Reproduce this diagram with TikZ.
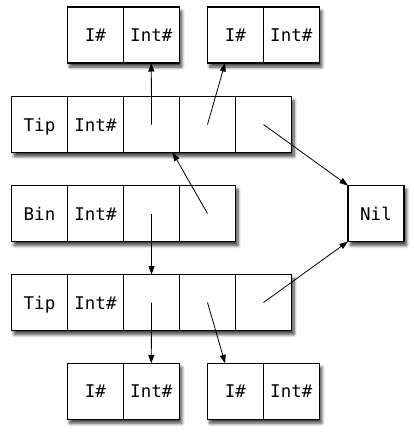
\documentclass[tikz,border=0pt]{standalone}
\usepackage{fontspec}
\setmonofont{DejaVu Sans Mono}
\usetikzlibrary{arrows.meta,shadows.blur}
\tikzset{
  rowbox/.style={draw=black, line width=1.1pt, fill=white, minimum height=56pt, inner sep=0pt, outer sep=0pt,
    blur shadow={shadow xshift=2.5pt, shadow yshift=-4pt, shadow blur steps=8, shadow blur radius=3pt, shadow opacity=75}},
  cell/.style={draw=black, line width=1.1pt, minimum width=56pt, minimum height=56pt, inner sep=0pt, outer sep=0pt,
    font=\fontsize{17.5}{20}\ttfamily, text height=13pt, text depth=0pt},
  ptr/.style={line width=0.8pt, -{Triangle[length=8.5pt,width=6pt]}}
}
\begin{document}
\begin{tikzpicture}[x=1pt,y=-1pt]
\useasboundingbox (0,0) rectangle (414,434);
% row backgrounds with shadows
\node[rowbox, minimum width=112pt] (top1) at (123.3,35) {};
\node[rowbox, minimum width=112pt] (top2) at (263.3,35) {};
\node[rowbox, minimum width=280pt] (tip1) at (151.5,124.5) {};
\node[rowbox, minimum width=224pt] (bin) at (123.5,213.5) {};
\node[rowbox, minimum width=56pt] (nilrow) at (376,213.5) {};
\node[rowbox, minimum width=280pt] (tip2) at (151.5,302.5) {};
\node[rowbox, minimum width=112pt] (bot1) at (123.3,391.3) {};
\node[rowbox, minimum width=112pt] (bot2) at (263.3,391.3) {};
% top boxes
\node[cell] (top1a) at (95.3,35) {I\#};
\node[cell] (top1b) at (151.3,35) {Int\#};
\node[cell] (top2a) at (235.3,35) {I\#};
\node[cell] (top2b) at (291.3,35) {Int\#};
% tip row 1
\node[cell] (t1c1) at (39.5,124.5) {Tip};
\node[cell] (t1c2) at (95.5,124.5) {Int\#};
\node[cell] (t1c3) at (151.5,124.5) {};
\node[cell] (t1c4) at (207.5,124.5) {};
\node[cell] (t1c5) at (263.5,124.5) {};
% bin row
\node[cell] (b1) at (39.5,213.5) {Bin};
\node[cell] (b2) at (95.5,213.5) {Int\#};
\node[cell] (b3) at (151.5,213.5) {};
\node[cell] (b4) at (207.5,213.5) {};
% nil
\node[cell] (nil) at (376,213.5) {Nil};
% tip row 2
\node[cell] (t2c1) at (39.5,302.5) {Tip};
\node[cell] (t2c2) at (95.5,302.5) {Int\#};
\node[cell] (t2c3) at (151.5,302.5) {};
\node[cell] (t2c4) at (207.5,302.5) {};
\node[cell] (t2c5) at (263.5,302.5) {};
% bottom boxes
\node[cell] (bot1a) at (95.3,391.3) {I\#};
\node[cell] (bot1b) at (151.3,391.3) {Int\#};
\node[cell] (bot2a) at (235.3,391.3) {I\#};
\node[cell] (bot2b) at (291.3,391.3) {Int\#};
% pointers
\draw[ptr] (t1c3.center) -- (top1b.south);
\draw[ptr] (t1c4.center) -- (top2a.-110);
\draw[ptr] (t1c5.center) -- (nil.north west);
\draw[ptr] (b4.center) -- (t1c3.-53);
\draw[ptr] (b3.center) -- (t2c3.north);
\draw[ptr] (t2c5.center) -- (nil.south west);
\draw[ptr] (t2c3.center) -- (bot1b.north);
\draw[ptr] (t2c4.center) -- (bot2a.110);
\end{tikzpicture}
\end{document}
